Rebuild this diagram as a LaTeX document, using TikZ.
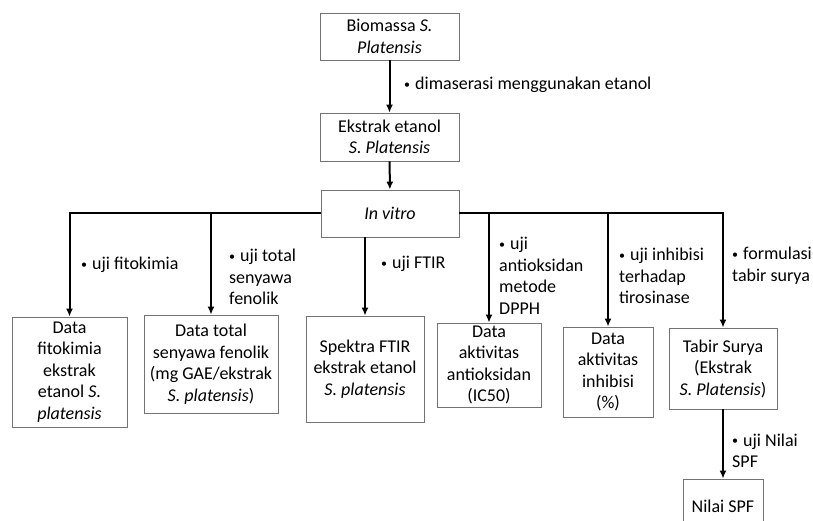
\documentclass[tikz,border=0pt]{standalone}
\usepackage{fontspec}
\setmainfont{Carlito}
\usepackage{tikz}
\usetikzlibrary{arrows.meta,positioning}
\newcommand{\bul}{\raisebox{1.5pt}{\fontsize{12}{12}\selectfont •}\hspace{5pt}}

\begin{document}
\begin{tikzpicture}[x=1pt,y=-1pt,
	box/.style={draw=black!55,line width=0.8pt,align=center,inner sep=0pt,font=\fontsize{18}{21.5}\selectfont},
	lbl/.style={anchor=west,align=left,inner sep=0pt,font=\fontsize{18}{21.5}\selectfont},
	link/.style={line width=2pt,-{Latex[length=8pt,width=7pt]}}]
	\clip (0,0) rectangle (813,521);

	\node[box,minimum width=139,minimum height=47] at (389.5,36.5) (bio) {Biomassa \textit{S.}\\ \textit{Platensis}};
	\node[box,minimum width=139,minimum height=48] at (389.5,137) (ekstrak) {Ekstrak etanol\\ \textit{S. Platensis}};
	\node[box,minimum width=138,minimum height=47] at (390,213.5) (invitro) {\textit{In vitro}};

	\node[box,minimum width=115,minimum height=110] at (69.5,372) (fito) {Data\\ fitokimia\\ ekstrak\\ etanol \textit{S.}\\ \textit{platensis}};
	\node[box,minimum width=134,minimum height=98] at (211,364) (fenol) {Data total\\ senyawa fenolik\\ (mg GAE/ekstrak\\ \textit{S. platensis})};
	\node[box,minimum width=118,minimum height=106] at (365,369) (ftir) {Spektra FTIR\\ ekstrak etanol\\ \textit{S. platensis}};
	\node[box,minimum width=104,minimum height=84] at (489,365) (antiok) {Data\\ aktivitas\\ antioksidan\\ (IC50)};
	\node[box,minimum width=90,minimum height=90] at (608,372) (inhib) {Data\\ aktivitas\\ inhibisi\\ (\%)};
	\node[box,minimum width=108,minimum height=81] at (723,368.5) (tabir) {Tabir Surya\\ (Ekstrak\\ \textit{S. Platensis})};
	\node[box,minimum width=80,minimum height=54] at (723,506) (spf) {Nilai SPF};

	\draw[link] (bio) -- (ekstrak);
	\draw[link] (ekstrak) -- (invitro);
	\draw[link] (invitro.west) -| (fito.north);
	\draw[link] (invitro.west) -| (fenol.north);
	\draw[link] (ftir.north |- invitro.south) -- (ftir.north);
	\draw[link] (invitro.east) -| (antiok.north);
	\draw[link] (invitro.east) -| (inhib.north);
	\draw[link] (invitro.east) -| (tabir.north);
	\draw[link] (tabir) -- (spf);

	\node[lbl] at (404,85) (dimlbl) {\bul dimaserasi menggunakan etanol};
	\node[lbl] at (81,265) (fitolbl) {\bul uji fitokimia};
	\node[lbl] at (229,277) (fenollbl) {\bul uji total\\ senyawa\\ fenolik};
	\node[lbl] at (381,264) (ftirlbl) {\bul uji FTIR};
	\node[lbl] at (499,276) (antioklbl) {\bul uji\\ antioksidan\\ metode\\ DPPH};
	\node[lbl] at (619,276) (inhiblbl) {\bul uji inhibisi\\ terhadap\\ tirosinase};
	\node[lbl] at (732,265.5) (tabirlbl) {\bul formulasi\\ tabir surya};
	\node[lbl] at (732,451) (spflbl) {\bul uji Nilai\\ SPF};
\end{tikzpicture}
\end{document}
